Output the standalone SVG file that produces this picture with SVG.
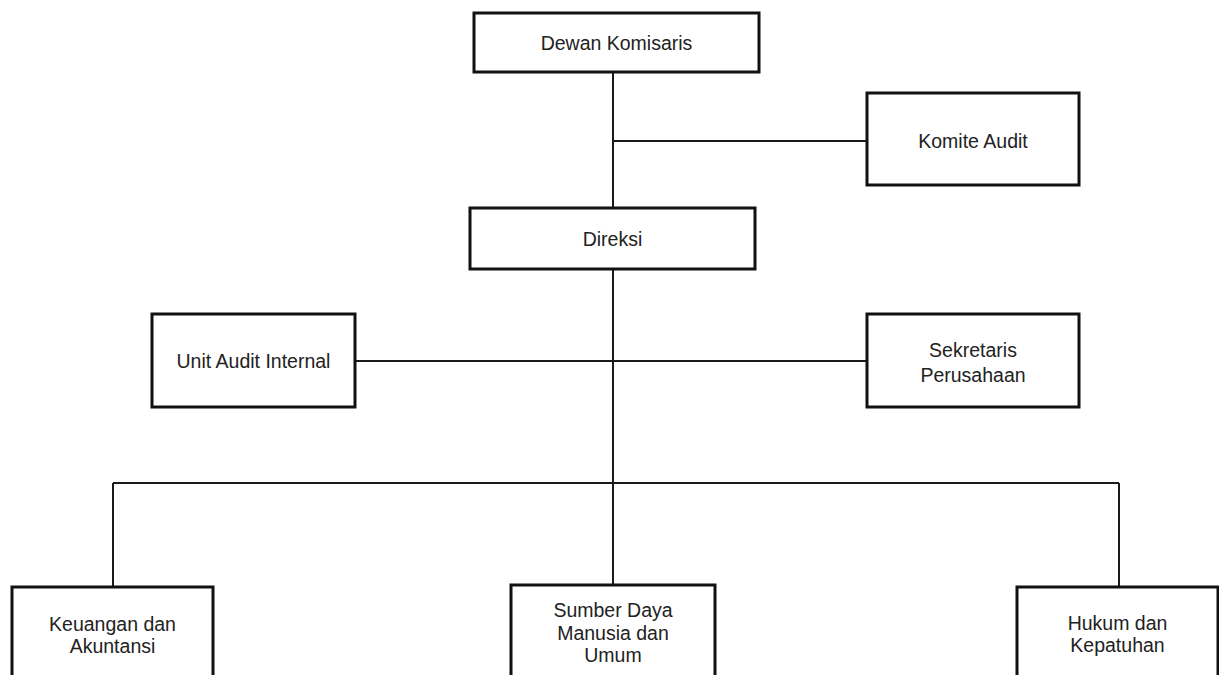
<svg xmlns="http://www.w3.org/2000/svg" width="1219" height="675" viewBox="0 0 1219 675">
<style>
.box{fill:#fff;stroke:#111;stroke-width:3}
.ln{stroke:#1a1a1a;stroke-width:2;fill:none}
text{font-family:"Liberation Sans",Arial,sans-serif;font-size:19.5px;fill:#222;text-anchor:middle}
</style>
<rect width="1219" height="675" fill="#fff"/>
<g id="connectors">
<path class="ln" d="M613 72V208"/>
<path class="ln" d="M613 141H867"/>
<path class="ln" d="M613 269V585"/>
<path class="ln" d="M355 361H867"/>
<path class="ln" d="M113 483H1119"/>
<path class="ln" d="M113 483V587"/>
<path class="ln" d="M1119 483V587"/>
</g>
<g id="dewan-komisaris"><rect class="box" x="474" y="13" width="285" height="59"/><text x="616.5" y="50">Dewan Komisaris</text></g>
<g id="komite-audit"><rect class="box" x="867" y="93" width="212" height="92"/><text x="973" y="148">Komite Audit</text></g>
<g id="direksi"><rect class="box" x="470" y="208" width="285" height="61"/><text x="612.5" y="246">Direksi</text></g>
<g id="unit-audit-internal"><rect class="box" x="152" y="314" width="203" height="93"/><text x="253.5" y="368">Unit Audit Internal</text></g>
<g id="sekretaris-perusahaan"><rect class="box" x="867" y="314" width="212" height="93"/><text x="973" y="357">Sekretaris</text><text x="973" y="382">Perusahaan</text></g>
<g id="keuangan-akuntansi"><rect class="box" x="12" y="587" width="201" height="100"/><text x="112.5" y="631">Keuangan dan</text><text x="112.5" y="653">Akuntansi</text></g>
<g id="sdm-umum"><rect class="box" x="511" y="585" width="204" height="102"/><text x="613" y="617">Sumber Daya</text><text x="613" y="640">Manusia dan</text><text x="613" y="662">Umum</text></g>
<g id="hukum-kepatuhan"><rect class="box" x="1017" y="587" width="201" height="100"/><text x="1117.5" y="630">Hukum dan</text><text x="1117.5" y="652">Kepatuhan</text></g>
</svg>
